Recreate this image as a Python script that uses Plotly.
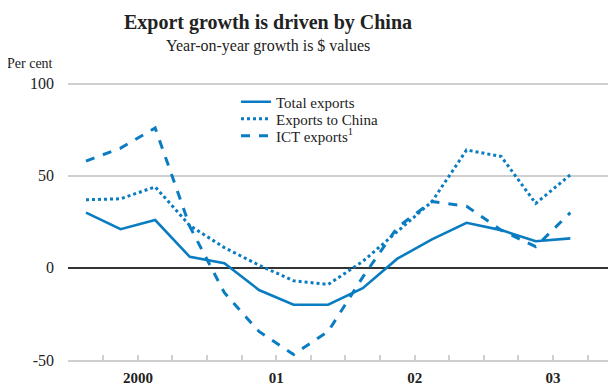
import plotly.graph_objects as go

# quarterly data, 2000Q1 - 2003Q3
quarters = ["2000Q1", "2000Q2", "2000Q3", "2000Q4",
            "2001Q1", "2001Q2", "2001Q3", "2001Q4",
            "2002Q1", "2002Q2", "2002Q3", "2002Q4",
            "2003Q1", "2003Q2", "2003Q3"]
total_exports = [30, 21, 26, 6, 2.5, -12, -20, -20, -11, 5, 15.5, 24.5, 20.5, 14.5, 16]
exports_china = [37, 37.5, 44, 23, 11, 1.5, -7, -9, 3.5, 20, 36, 64, 60.5, 35, 50.5]
ict_exports = [58, 65, 76, 22.5, -13.5, -34.5, -47, -34.5, -5, 22, 36, 33.5, 20.5, 11.5, 30]

year_labels = ["2000", "01", "02", "03"]
y_ticks = [100, 50, 0, -50]
y_labels = ["100", "50", "0", "-50"]

BLUE = "#0a7cc2"
GRID = "#cfcfcf"
FONT = "Liberation Serif"

# the page body adds an 8px margin, so the figure is drawn 8px smaller
W, H = 608, 377
L, R, T, B = 60, 0, 72, 25


def q_to_x(q):
    # middle of the quarter on a continuous year scale
    return int(q[:4]) + (int(q[-1]) - 0.5) / 4


x = [q_to_x(q) for q in quarters]
year_mid = [2000.5 + i for i in range(len(year_labels))]
quarter_bounds = [2000 + i / 4 for i in range(1, 16)]

pw, ph = W - L - R, H - T - B


def py(pix):
    # figure pixel row -> paper y
    return 1 - (pix - T) / ph


fig = go.Figure()
fig.add_trace(go.Scatter(x=x, y=total_exports, name="Total exports", mode="lines",
                         line=dict(color=BLUE, width=2.6), legend="legend"))
fig.add_trace(go.Scatter(x=x, y=exports_china, name="Exports to China", mode="lines",
                         line=dict(color=BLUE, width=3, dash="dot"), legend="legend2"))
fig.add_trace(go.Scatter(x=x, y=ict_exports, name="ICT exports<sup>1</sup>", mode="lines",
                         line=dict(color=BLUE, width=3, dash="dash"), legend="legend3"))

leg_common = dict(x=(228 - L) / pw, xanchor="left", yanchor="middle",
                  bgcolor="rgba(0,0,0,0)", font=dict(size=15, family=FONT, color="#222222"),
                  itemwidth=30)

fig.update_layout(
    width=W, height=H,
    margin=dict(l=L, r=R, t=T, b=B),
    paper_bgcolor="white", plot_bgcolor="white",
    font=dict(family=FONT, color="#222222", size=15),
    showlegend=True,
    legend=dict(leg_common, y=py(94)),
    legend2=dict(leg_common, y=py(111)),
    legend3=dict(leg_common, y=py(128)),
    xaxis=dict(
        range=[1999.995, 2003.955],
        tickmode="array", tickvals=year_mid, ticktext=year_labels,
        ticks="", showgrid=False, zeroline=False,
        showline=True, linecolor=GRID, linewidth=2,
        ticklabelstandoff=3,
        tickfont=dict(family=FONT, size=15, color="#222222", weight="bold"),
        minor=dict(tickmode="array", tickvals=quarter_bounds, ticks="inside",
                   ticklen=5, tickcolor=GRID, tickwidth=1.5, showgrid=False),
        fixedrange=True,
    ),
    yaxis=dict(
        range=[-50, 102], tickmode="array", tickvals=y_ticks, ticktext=y_labels,
        showgrid=True, gridcolor=GRID, gridwidth=2,
        zeroline=True, zerolinecolor="#333333", zerolinewidth=2,
        ticks="", ticklabelstandoff=13,
        tickfont=dict(family=FONT, size=16, color="#222222"),
        fixedrange=True,
    ),
    annotations=[
        dict(text="<b>Export growth is driven by China</b>", xref="paper", yref="paper",
             x=(260 - L) / pw, y=py(14), xanchor="center", yanchor="middle",
             showarrow=False, font=dict(size=20, family=FONT, color="#222222")),
        dict(text="Year-on-year growth is $ values", xref="paper", yref="paper",
             x=(260 - L) / pw, y=py(38), xanchor="center", yanchor="middle",
             showarrow=False, font=dict(size=16, family=FONT, color="#222222")),
        dict(text="Per cent", xref="paper", yref="paper",
             x=(-3 - L) / pw, y=py(55), xanchor="left", yanchor="middle",
             showarrow=False, font=dict(size=14, family=FONT, color="#222222")),
    ],
)

fig.write_html("out.html")
